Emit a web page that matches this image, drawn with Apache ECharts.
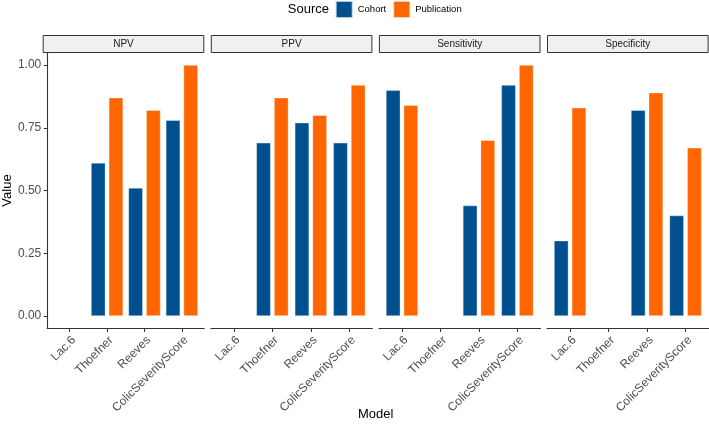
<!DOCTYPE html>
<html><head><meta charset="utf-8">
<script src="https://cdn.jsdelivr.net/npm/echarts@6/dist/echarts.min.js"></script>
<style>html,body{margin:0;padding:0;background:#fff}#c{width:709px;height:424px}</style>
</head><body><div id="c"></div>
<script>
const models = ['Lac.6', 'Thoefner', 'Reeves', 'ColicSeverityScore'];
const metrics = ['NPV', 'PPV', 'Sensitivity', 'Specificity'];
const sources = ['Cohort', 'Publication'];
const cohortNPV = [null, 0.61, 0.51, 0.78];
const publicationNPV = [null, 0.87, 0.82, 1.00];
const cohortPPV = [null, 0.69, 0.77, 0.69];
const publicationPPV = [null, 0.87, 0.80, 0.92];
const cohortSensitivity = [0.90, null, 0.44, 0.92];
const publicationSensitivity = [0.84, null, 0.70, 1.00];
const cohortSpecificity = [0.30, null, 0.82, 0.40];
const publicationSpecificity = [0.83, null, 0.89, 0.67];
const yTicks = [0, 0.25, 0.5, 0.75, 1];
const yTickLabels = ['0.00', '0.25', '0.50', '0.75', '1.00'];

const cohortData = [cohortNPV, cohortPPV, cohortSensitivity, cohortSpecificity];
const publicationData = [publicationNPV, publicationPPV, publicationSensitivity, publicationSpecificity];
const colors = ['#00508F', '#FF6600'];

const chart = echarts.init(document.getElementById('c'), null, {renderer: 'canvas'});
const panelLeft = 42.7, panelW = 161.6, panelStep = 168.1, plotTop = 52.5, plotBottom = 328.5;
const grids = [], xAxes = [], yAxes = [], series = [], graphics = [];
const toPairs = arr => arr.map((v, i) => [i, v]).filter(p => p[1] !== null);

metrics.forEach((m, k) => {
  const left = panelLeft + k * panelStep;
  grids.push({left: left, top: plotTop, width: panelW, height: plotBottom - plotTop});
  xAxes.push({
    gridIndex: k, type: 'value', min: -0.6, max: 3.6,
    splitLine: {show: false},
    axisLine: {show: true, onZero: false, lineStyle: {color: '#333', width: 1.1}},
    axisTick: {show: true, customValues: [0, 1, 2, 3], length: 3.5, lineStyle: {color: '#333'}},
    axisLabel: {customValues: [0, 1, 2, 3], rotate: 45, margin: 5.5, fontSize: 12,
      align: 'right', verticalAlign: 'top',
      fontFamily: 'Liberation Sans, Arial', color: '#4d4d4d',
      formatter: v => models[Math.round(v)]}
  });
  yAxes.push({
    gridIndex: k, type: 'value', min: -0.05, max: 1.05,
    splitLine: {show: false},
    axisLine: {show: k === 0, onZero: false, lineStyle: {color: '#333', width: 1.1}},
    axisTick: {show: k === 0, customValues: yTicks, length: 3.5, lineStyle: {color: '#333'}},
    axisLabel: {show: k === 0, customValues: yTicks, fontSize: 12, margin: 6,
      fontFamily: 'Liberation Sans, Arial', color: '#4d4d4d',
      formatter: v => yTickLabels[yTicks.findIndex(t => Math.abs(t - v) < 1e-6)]},
    name: k === 0 ? 'Value' : '', nameLocation: 'middle', nameGap: 31, nameRotate: 90,
    nameTextStyle: {fontSize: 13, fontFamily: 'Liberation Sans, Arial', color: '#000'}
  });
  series.push({
    name: sources[0], type: 'bar', xAxisIndex: k, yAxisIndex: k,
    data: toPairs(cohortData[k]), barWidth: 14.3, barGap: '24%',
    itemStyle: {color: colors[0], borderColor: 'rgba(255,255,255,0.7)', borderWidth: 0.5}
  });
  series.push({
    name: sources[1], type: 'bar', xAxisIndex: k, yAxisIndex: k,
    data: toPairs(publicationData[k]), barWidth: 14.3, barGap: '24%',
    itemStyle: {color: colors[1], borderColor: 'rgba(255,255,255,0.7)', borderWidth: 0.5}
  });
  graphics.push({
    type: 'rect', shape: {x: left + 0.5, y: 35.5, width: panelW - 1, height: 17},
    style: {fill: '#F0F0F0', stroke: '#333', lineWidth: 1}
  });
  graphics.push({
    type: 'text', x: left + panelW / 2, y: 44,
    style: {text: m, fontSize: 10, fontFamily: 'Liberation Sans, Arial', fill: '#1a1a1a',
      align: 'center', verticalAlign: 'middle'}
  });
});

graphics.push({
  type: 'text', x: 329, y: 9,
  style: {text: 'Source', fontSize: 13, fontFamily: 'Liberation Sans, Arial', fill: '#000',
    align: 'right', verticalAlign: 'middle'}
});
graphics.push({
  type: 'text', x: 375.6, y: 414,
  style: {text: 'Model', fontSize: 13, fontFamily: 'Liberation Sans, Arial', fill: '#000',
    align: 'center', verticalAlign: 'middle'}
});

chart.setOption({
  animation: false,
  legend: {
    data: sources, left: 334.7, top: 0, padding: 0, itemWidth: 17, itemHeight: 17, itemGap: 6,
    icon: 'rect', textStyle: {fontSize: 9.5, fontFamily: 'Liberation Sans, Arial', color: '#000'}
  },
  grid: grids, xAxis: xAxes, yAxis: yAxes, series: series, graphic: graphics
});
</script></body></html>
